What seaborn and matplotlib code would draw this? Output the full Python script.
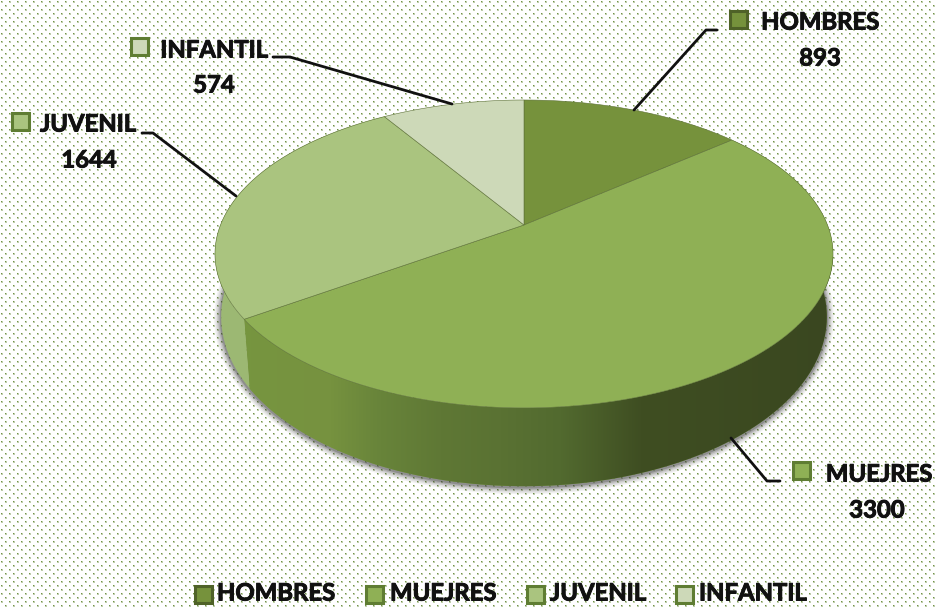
import numpy as np
import matplotlib
matplotlib.use("Agg")
import matplotlib.pyplot as plt
import matplotlib.patheffects as pe
from matplotlib.patches import Polygon, Rectangle
import seaborn as sns

# data
categories = ["HOMBRES", "MUEJRES", "JUVENIL", "INFANTIL"]
values = [893, 3300, 1644, 574]
top_colors = ["#76923c", "#8fb055", "#aac47f", "#cdd9b8"]
side_colors = ["#5f7830", "#7a9a48", "#9cb873", "#b8c8a0"]
edge_colors = ["#4f6228", "#5f7d33", "#5f7d33", "#5f7d33"]

sns.set_theme(style="white")
plt.rcParams['font.family'] = ['Lato', 'DejaVu Sans']
palette = sns.color_palette(top_colors)

W, H = 935, 609
fig = plt.figure(figsize=(W / 100, H / 100), dpi=100)
ax = fig.add_axes([0, 0, 1, 1])

# dotted background
tile = np.ones((8, 8, 3))
dot = np.array([0.45, 0.58, 0.28])
for (r, c) in [(1, 1), (5, 5)]:
    tile[r, c] = dot
    for (dr, dc) in [(0, 1), (1, 0), (1, 1)]:
        tile[r + dr, c + dc] = 0.45 * dot + 0.55
bg = np.tile(tile, (H // 8 + 1, W // 8 + 1, 1))[:H, :W]
ax.imshow(bg, extent=(0, W, H, 0), interpolation="nearest", aspect="auto", zorder=0)

# pie geometry, a tilted circle seen in perspective
cx, cy = 524, 225
a, b, k = 303.5, 148.5, 0.188


def top_pt(theta):
    u, v = np.sin(theta), np.cos(theta)
    d = 1 + k * v
    return np.column_stack([cx + a * u / d, cy - b * v / d])


def bottom_pt(theta):
    u, v = np.sin(theta), np.cos(theta)
    d = 1 + k * v
    return np.column_stack([cx + 0.98 * a * u / d, cy + 60 - 1.10 * b * v / d])


angles = np.cumsum([0] + values) / sum(values) * 2 * np.pi

# soft shadow under the pie
full = np.linspace(0, 2 * np.pi, 400)
for lw, al in [(10, 0.07), (8, 0.09), (6, 0.13), (4, 0.2), (2, 0.3)]:
    p = bottom_pt(full) + [0, 1]
    ax.add_patch(Polygon(p, closed=True, fc="none", ec="#404040", lw=lw, alpha=al, zorder=1))

# side walls
for i in [2, 1]:
    t = np.linspace(angles[i], angles[i + 1], 200)
    wall = np.vstack([top_pt(t), bottom_pt(t)[::-1]])
    patch = Polygon(wall, closed=True, fc=side_colors[i], ec="none", zorder=2)
    ax.add_patch(patch)
    if i == 1:
        stops_x = [250, 330, 380, 440, 500, 560, 640, 835]
        stops_c = ["#76953f", "#76923f", "#68843a", "#5f7835", "#5a7233", "#526a2f", "#3f4e22", "#3a4720"]
        xs = np.arange(240, 840)
        rgb = np.array([matplotlib.colors.to_rgb(c) for c in stops_c])
        grad = np.column_stack([np.interp(xs, stops_x, rgb[:, j]) for j in range(3)])[None, :, :]
        im = ax.imshow(grad, extent=(240, 840, 500, 250), aspect="auto", zorder=3)
        im.set_clip_path(patch)

# top wedges
for i in range(len(values)):
    t = np.linspace(angles[i], angles[i + 1], 200)
    pts = np.vstack([[cx, cy], top_pt(t)])
    ax.add_patch(Polygon(pts, closed=True, fc=palette[i], ec=sns.desaturate(side_colors[0], 0.8),
                         lw=0.4, zorder=4))

# leader lines
leaders = [
    ([634, 706, 717], [110, 30, 30]),
    ([731, 767, 780], [438, 481, 481]),
    ([236, 153, 142], [196, 133, 133]),
    ([452, 290, 273], [104, 57, 57]),
]
for lx, ly in leaders:
    ax.plot(lx, ly, color="#111111", lw=2, zorder=5, solid_joinstyle="round")

FS = 17.2
heavy = [pe.withStroke(linewidth=0.7, foreground="#111111")]
# data labels
label_pos = [(820, 22), (879, 474), (88, 124), (214, 50)]
value_pos = [(820, 58), (877, 510), (89, 160), (214, 85)]
label_box = [(730, 11), (793, 462), (12, 113), (131, 38)]
for i, cat in enumerate(categories):
    ax.text(*label_pos[i], cat, ha="center", va="center", fontsize=FS, fontweight="bold",
            color="#111111", zorder=6, path_effects=heavy)
    ax.text(*value_pos[i], str(values[i]), ha="center", va="center", fontsize=FS, fontweight="bold",
            color="#111111", zorder=6, path_effects=heavy)
    ax.add_patch(Rectangle(label_box[i], 17, 17, fc=palette[i], ec=edge_colors[i], lw=2.2, zorder=6))

# legend along the bottom
legend_box = [195, 366, 527, 676]
legend_text = [217, 390, 550, 699]
for i, cat in enumerate(categories):
    ax.add_patch(Rectangle((legend_box[i], 586), 17, 17, fc=palette[i], ec=edge_colors[i], lw=2.2, zorder=6))
    ax.text(legend_text[i], 593, cat, ha="left", va="center", fontsize=FS, fontweight="bold",
            color="#111111", zorder=6, path_effects=heavy)

ax.set_xlim(0, W)
ax.set_ylim(H, 0)
ax.axis("off")
fig.savefig("out.png", dpi=100)
